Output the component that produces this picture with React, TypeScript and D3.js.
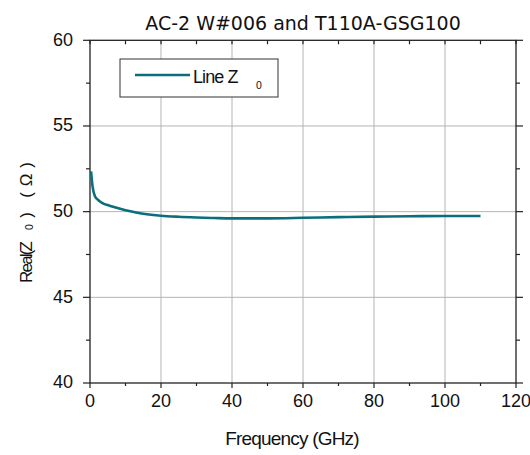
import React from "react";
import * as d3 from "d3";

const title = "AC-2 W#006 and T110A-GSG100";
const xTicks = [0, 20, 40, 60, 80, 100, 120];
const xMinor = [10, 30, 50, 70, 90, 110];
const yTicks = [40, 45, 50, 55, 60];
const yMinor = [42.5, 47.5, 52.5, 57.5];
const freq = [0.3, 0.7, 1.4, 2.3, 3.5, 5.5, 7, 10, 13, 16, 20, 25, 30, 35, 40, 50, 60, 70, 80, 90, 100, 110];
const realZ = [52.35, 51.5, 50.9, 50.68, 50.5, 50.35, 50.25, 50.08, 49.95, 49.85, 49.76, 49.7, 49.66, 49.63, 49.61, 49.61, 49.64, 49.68, 49.71, 49.73, 49.75, 49.75];

export default function App() {
  const W = 530, H = 455;
  const L = 90, R = 516, T = 40.3, B = 383;
  const x = d3.scaleLinear().domain([0, 120]).range([L, R]);
  const y = d3.scaleLinear().domain([40, 60]).range([B, T]);
  const line = d3.line<number>().x((_, i) => x(freq[i])).y((d) => y(d)).curve(d3.curveMonotoneX);
  const color = "#0b6f7b";
  const font = "'Liberation Sans', Arial, sans-serif";
  return (
    <svg width={W} height={H} style={{ position: "absolute", left: 0, top: 0, background: "#fff" }}>
      <rect x={0} y={0} width={W} height={H} fill="#fff" />
      {/* grid */}
      {xTicks.slice(1, -1).map((t) => (
        <line key={"gx" + t} x1={x(t)} x2={x(t)} y1={T} y2={B} stroke="#b4b4b4" strokeWidth={1} />
      ))}
      {yTicks.slice(1, -1).map((t) => (
        <line key={"gy" + t} x1={L} x2={R} y1={y(t)} y2={y(t)} stroke="#b4b4b4" strokeWidth={1} />
      ))}
      {/* frame */}
      <rect x={L} y={T} width={R - L} height={B - T} fill="none" stroke="#222" strokeWidth={1.3} />
      {/* left/right ticks */}
      {yTicks.map((t) => (
        <g key={"yt" + t}>
          <line x1={L - 7} x2={L} y1={y(t)} y2={y(t)} stroke="#222" strokeWidth={1.2} />
          <line x1={R} x2={R + 7} y1={y(t)} y2={y(t)} stroke="#222" strokeWidth={1.2} />
          <text x={L - 17} y={y(t)} dy="0.3em" textAnchor="end" fontFamily={font} fontSize={18} fill="#111">{t}</text>
        </g>
      ))}
      {yMinor.map((t) => (
        <g key={"ym" + t}>
          <line x1={L - 4} x2={L} y1={y(t)} y2={y(t)} stroke="#222" strokeWidth={1.2} />
          <line x1={R} x2={R + 4} y1={y(t)} y2={y(t)} stroke="#222" strokeWidth={1.2} />
        </g>
      ))}
      {/* top/bottom ticks */}
      {xTicks.map((t) => (
        <g key={"xt" + t}>
          <line x1={x(t)} x2={x(t)} y1={B} y2={B + 5} stroke="#222" strokeWidth={1.2} />
          <line x1={x(t)} x2={x(t)} y1={T} y2={T + 4} stroke="#222" strokeWidth={1.2} />
          <text x={x(t)} y={B + 24} textAnchor="middle" fontFamily={font} fontSize={18} fill="#111">{t}</text>
        </g>
      ))}
      {xMinor.map((t) => (
        <g key={"xm" + t}>
          <line x1={x(t)} x2={x(t)} y1={B} y2={B + 3} stroke="#222" strokeWidth={1.2} />
          <line x1={x(t)} x2={x(t)} y1={T} y2={T + 4} stroke="#222" strokeWidth={1.2} />
        </g>
      ))}
      {/* data */}
      <path d={line(realZ) || ""} fill="none" stroke={color} strokeWidth={2.6} strokeLinejoin="round" />
      {/* legend */}
      <rect x={120} y={59} width={158} height={38} fill="#fff" stroke="#333" strokeWidth={1} />
      <line x1={135} x2={190} y1={75} y2={75} stroke={color} strokeWidth={2.6} />
      <text x={193} y={83} fontFamily={font} fontSize={18} letterSpacing={-0.9} fill="#111">Line Z</text>
      <text x={256} y={89} fontFamily={font} fontSize={10.5} fill="#111">0</text>
      {/* title */}
      <text x={303} y={30} textAnchor="middle" fontFamily="'DejaVu Sans', Verdana, sans-serif" fontSize={19} fill="#111">{title}</text>
      {/* x label */}
      <text x={292} y={445} textAnchor="middle" fontFamily={font} fontSize={19} letterSpacing={-0.8} fill="#111">Frequency (GHz)</text>
      {/* y label */}
      <g transform="translate(32,283) rotate(-90)" fontFamily={font} fill="#111">
        <text x={0} y={0} fontSize={17} letterSpacing={-1.8}>Real(Z</text>
        <text x={56} y={1} fontSize={10.5} textAnchor="middle">0</text>
        <text x={68} y={0} fontSize={17} textAnchor="middle">)</text>
        <text x={88} y={0} fontSize={17} textAnchor="middle">(</text>
        <text x={103} y={0} fontSize={17} textAnchor="middle">Ω</text>
        <text x={118} y={0} fontSize={17} textAnchor="middle">)</text>
      </g>
    </svg>
  );
}
